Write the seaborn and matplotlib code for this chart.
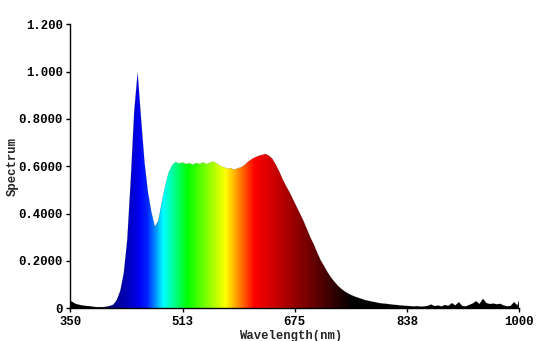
import numpy as np
import matplotlib
matplotlib.use("Agg")
import matplotlib.pyplot as plt
from matplotlib.colors import LinearSegmentedColormap
import seaborn as sns

# --------------------------------------------------------------------------------
# Data (wavelength in nm, relative spectrum)
# --------------------------------------------------------------------------------

wavelength = [
    347.5, 352.5, 357.5, 362.5, 367.5, 372.5, 377.5, 382.5, 387.5, 392.5,
    397.5, 402.5, 407.5, 412.5, 417.5, 422.5, 427.5, 432.5, 437.5, 442.5,
    447.5, 452.5, 457.5, 462.5, 467.5, 472.5, 477.5, 482.5, 487.5, 492.5,
    497.5, 502.5, 507.5, 512.5, 517.5, 522.5, 527.5, 532.5, 537.5, 542.5,
    547.5, 552.5, 557.5, 562.5, 567.5, 572.5, 577.5, 582.5, 587.5, 592.5,
    597.5, 602.5, 607.5, 612.5, 617.5, 622.5, 627.5, 632.5, 637.5, 642.5,
    647.5, 652.5, 657.5, 662.5, 667.5, 672.5, 677.5, 682.5, 687.5, 692.5,
    697.5, 702.5, 707.5, 712.5, 717.5, 722.5, 727.5, 732.5, 737.5, 742.5,
    747.5, 752.5, 757.5, 762.5, 767.5, 772.5, 777.5, 782.5, 787.5, 792.5,
    797.5, 802.5, 807.5, 812.5, 817.5, 822.5, 827.5, 832.5, 837.5, 842.5,
    847.5, 852.5, 857.5, 862.5, 867.5, 872.5, 877.5, 882.5, 887.5, 892.5,
    897.5, 902.5, 907.5, 912.5, 917.5, 922.5, 927.5, 932.5, 937.5, 942.5,
    947.5, 952.5, 957.5, 962.5, 967.5, 972.5, 977.5, 982.5, 987.5, 992.5,
    997.5, 1000.0,
]

spectrum = [
    0.032, 0.028, 0.019, 0.015, 0.012, 0.010, 0.009, 0.007, 0.005, 0.005,
    0.005, 0.007, 0.010, 0.016, 0.036, 0.075, 0.150, 0.290, 0.540, 0.830,
    0.995, 0.800, 0.615, 0.490, 0.405, 0.345, 0.370, 0.450, 0.520, 0.575,
    0.605, 0.618, 0.612, 0.616, 0.610, 0.613, 0.607, 0.614, 0.610, 0.617,
    0.609, 0.616, 0.620, 0.611, 0.601, 0.596, 0.590, 0.592, 0.586, 0.592,
    0.596, 0.606, 0.620, 0.630, 0.638, 0.644, 0.648, 0.652, 0.645, 0.632,
    0.607, 0.578, 0.545, 0.516, 0.490, 0.460, 0.430, 0.400, 0.370, 0.335,
    0.300, 0.270, 0.235, 0.203, 0.178, 0.152, 0.130, 0.112, 0.095, 0.082,
    0.071, 0.062, 0.055, 0.049, 0.044, 0.039, 0.034, 0.031, 0.028, 0.025,
    0.022, 0.020, 0.019, 0.017, 0.015, 0.014, 0.012, 0.011, 0.010, 0.009,
    0.008, 0.009, 0.007, 0.008, 0.010, 0.016, 0.009, 0.012, 0.008, 0.014,
    0.010, 0.022, 0.012, 0.026, 0.010, 0.008, 0.014, 0.020, 0.030, 0.018,
    0.040, 0.022, 0.018, 0.020, 0.017, 0.019, 0.012, 0.008, 0.010, 0.026,
    0.012, 0.036,
]

x_ticks = [350, 512.5, 675, 837.5, 1000]
x_tick_labels = ["350", "513", "675", "838", "1000"]
y_ticks = [0, 0.2, 0.4, 0.6, 0.8, 1.0, 1.2]
y_tick_labels = ["0", "0.2000", "0.4000", "0.6000", "0.8000", "1.000", "1.200"]

# --------------------------------------------------------------------------------
# Colour of the fill along the wavelength axis
# --------------------------------------------------------------------------------

color_stops = [
    (350, (0.0, 0.0, 0.0)),
    (400, (0.0, 0.0, 0.05)),
    (408, (0.0, 0.0, 0.50)),
    (430, (0.0, 0.0, 0.70)),
    (450, (0.0, 0.0, 0.95)),
    (462, (0.0, 0.15, 1.0)),
    (485, (0.0, 1.0, 1.0)),
    (520, (0.0, 1.0, 0.0)),
    (575, (1.0, 1.0, 0.0)),
    (617, (1.0, 0.0, 0.0)),
    (760, (0.0, 0.0, 0.0)),
    (1000, (0.0, 0.0, 0.0)),
]
lo, hi = 350, 1000
Spec_Cmap = LinearSegmentedColormap.from_list(
    "spec", [((w - lo) / (hi - lo), c) for w, c in color_stops], N=1024)

# --------------------------------------------------------------------------------
# Plot
# --------------------------------------------------------------------------------

sns.set_style("ticks")
plt.rcParams["font.family"] = ["Liberation Mono", "DejaVu Sans Mono"]
plt.rcParams["font.weight"] = "bold"

fig = plt.figure(figsize=(5.42, 3.41), dpi=100)
ax = fig.add_axes([0.1297, 0.0959, 0.8283, 0.8328])

Fill = ax.fill_between(wavelength, spectrum, 0, color="none", lw=0)

Grad = np.linspace(lo, hi, 1301).reshape(1, -1)
Img = ax.imshow(Grad, extent=[lo, hi, 0, 1.2], aspect="auto", origin="lower",
                cmap=Spec_Cmap, vmin=lo, vmax=hi, interpolation="nearest", zorder=2)
Img.set_clip_path(Fill.get_paths()[0], transform=ax.transData)

sns.lineplot(x=wavelength, y=spectrum, ax=ax, color="black", lw=0.3, alpha=0.25, zorder=3)

ax.set_xlim(lo, hi)
ax.set_ylim(0, 1.2)
ax.set_xticks(x_ticks)
ax.set_xticklabels(x_tick_labels)
ax.set_yticks(y_ticks)
ax.set_yticklabels(y_tick_labels)

ax.tick_params(axis="both", labelsize=8.8, length=3, width=1, pad=2.5, colors="black")
for lab in ax.get_xticklabels() + ax.get_yticklabels():
    lab.set_fontweight("bold")

ax.set_xlabel("Wavelength(nm)", fontsize=8.8, fontweight="bold", labelpad=1)
ax.xaxis.set_label_coords(0.49, -0.075)
ax.set_ylabel("Spectrum", fontsize=8.8, fontweight="bold", labelpad=0)

for side in ["top", "right"]:
    ax.spines[side].set_visible(False)
for side in ["left", "bottom"]:
    ax.spines[side].set_color("black")
    ax.spines[side].set_linewidth(1)

fig.savefig("out.png", dpi=100)
